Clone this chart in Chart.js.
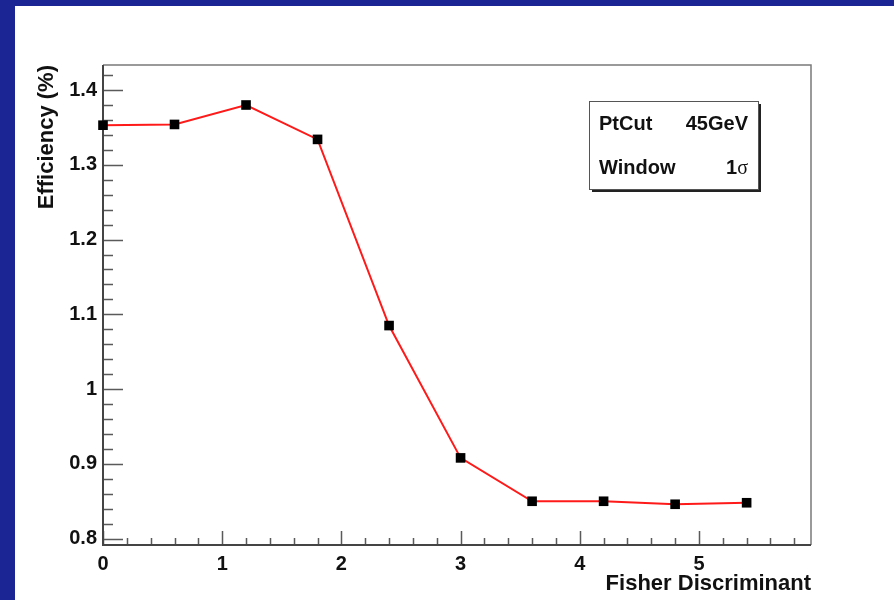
<!DOCTYPE html>
<html>
<head>
<meta charset="utf-8">
<script src="https://cdn.jsdelivr.net/npm/chart.js@4.4.1/dist/chart.umd.min.js"></script>
<style>
  html, body { margin: 0; padding: 0; background: #1b2594; width: 894px; height: 600px; overflow: hidden; }
  #frame { position: absolute; left: 15px; top: 6px; width: 879px; height: 594px; background: #fff; }
  canvas { display: block; }
</style>
</head>
<body>
<div id="frame"><canvas id="effChart" width="879" height="594"></canvas></div>
<script>
// fisher cut scan, efficiency in %
const fisherCut  = [0, 0.6, 1.2, 1.8, 2.4, 3.0, 3.6, 4.2, 4.8, 5.4];
const efficiency = [1.353, 1.354, 1.380, 1.334, 1.085, 0.908, 0.850, 0.850, 0.846, 0.848];

const xTickValues = [0, 1, 2, 3, 4, 5];
const xTickLabels = ["0", "1", "2", "3", "4", "5"];
const yTickValues = [0.8, 0.9, 1.0, 1.1, 1.2, 1.3, 1.4];
const yTickLabels = ["0.8", "0.9", "1", "1.1", "1.2", "1.3", "1.4"];

const legendRows = [["PtCut", "45GeV"], ["Window", "1\u03c3"]];

const FONT = "'Liberation Sans', Arial, Helvetica, sans-serif";

// ROOT style frame: inside ticks with minor divisions, plus the text box
const rootFrame = {
  id: "rootFrame",
  beforeDatasetsDraw(chart) {
    const ctx = chart.ctx;
    const a = chart.chartArea;
    const xs = chart.scales.x, ys = chart.scales.y;
    ctx.save();

    // top + right frame
    ctx.strokeStyle = "#7a7a7a";
    ctx.lineWidth = 1.5;
    ctx.beginPath();
    ctx.moveTo(a.left, a.top); ctx.lineTo(a.right, a.top); ctx.lineTo(a.right, a.bottom);
    ctx.stroke();

    // ticks
    ctx.strokeStyle = "#5a5a5a";
    ctx.lineWidth = 1.5;
    ctx.beginPath();
    for (let i = 0; i <= 31; i++) {
      const v = 0.8 + i * 0.02;
      if (v > ys.max) break;
      const py = Math.round(ys.getPixelForValue(v)) + 0.5;
      const len = (i % 5 === 0) ? 20 : 10;
      ctx.moveTo(a.left, py); ctx.lineTo(a.left + len, py);
    }
    for (let i = 0; i <= 30; i++) {
      const v = i * 0.2;
      if (v > xs.max) break;
      const px = Math.round(xs.getPixelForValue(v)) + 0.5;
      const len = (i % 5 === 0) ? 14 : 7;
      ctx.moveTo(px, a.bottom); ctx.lineTo(px, a.bottom - len);
    }
    ctx.stroke();

    // left + bottom axis
    ctx.strokeStyle = "#444";
    ctx.lineWidth = 2;
    ctx.beginPath();
    ctx.moveTo(a.left, a.top); ctx.lineTo(a.left, a.bottom); ctx.lineTo(a.right, a.bottom);
    ctx.stroke();
    ctx.restore();
  },
  afterDraw(chart) {
    const ctx = chart.ctx;
    const bx = 574, by = 95, bw = 169, bh = 88;
    ctx.save();
    ctx.fillStyle = "#222";
    ctx.fillRect(bx + 3, by + 3, bw, bh);
    ctx.fillStyle = "#fff";
    ctx.fillRect(bx, by, bw, bh);
    ctx.strokeStyle = "#555";
    ctx.lineWidth = 1;
    ctx.strokeRect(bx + 0.5, by + 0.5, bw, bh);

    ctx.fillStyle = "#111";
    ctx.textBaseline = "alphabetic";
    ctx.font = "bold 20px " + FONT;
    legendRows.forEach((row, i) => {
      const y = by + 29 + i * 44;
      ctx.textAlign = "left";
      ctx.fillText(row[0], bx + 10, y);
      ctx.textAlign = "right";
      if (row[1].indexOf("\u03c3") >= 0) {
        ctx.font = "20px 'Liberation Serif', 'DejaVu Serif', serif";
        ctx.fillText("\u03c3", bx + 159, y);
        const w = ctx.measureText("\u03c3").width;
        ctx.font = "bold 20px " + FONT;
        ctx.fillText(row[1].replace("\u03c3", ""), bx + 159 - w, y);
      } else {
        ctx.fillText(row[1], bx + 159, y);
      }
    });
    ctx.restore();
  }
};

const ctx = document.getElementById("effChart").getContext("2d");
new Chart(ctx, {
  type: "line",
  data: {
    datasets: [{
      data:                 fisherCut.map((x, i) => ({ x: x, y: efficiency[i] })),
      borderColor:          "#ff1a1a",
      borderWidth:          2,
      pointStyle:           "rect",
      pointRadius:          6.8,
      pointBackgroundColor: "#000",
      pointBorderColor:     "#000",
      pointBorderWidth:     0,
      tension:              0,
      fill:                 false,
      clip:                 false,
    }]
  },
  options: {
    responsive: false,
    animation:  false,
    layout: { padding: { left: 0, right: 83, top: 59, bottom: 0 } },
    plugins: { legend: { display: false }, tooltip: { enabled: false } },
    scales: {
      x: {
        type: "linear",
        min: 0, max: 5.94,
        afterFit: s => { s.height = 55; },
        afterBuildTicks: s => { s.ticks = xTickValues.map(v => ({ value: v })); },
        border: { display: false },
        grid: { display: false, drawTicks: false },
        ticks: {
          padding: 7,
          color: "#111",
          font: { family: FONT, size: 20, weight: "bold" },
          callback: (v) => xTickLabels[xTickValues.indexOf(v)],
        },
        title: {
          display: true, text: "Fisher Discriminant", align: "end",
          color: "#111",
          padding: { top: 0, bottom: 3 },
          font: { family: FONT, size: 22, weight: "bold" },
        },
      },
      y: {
        min: 0.7915, max: 1.4335,
        afterFit: s => { s.width = 88; },
        afterBuildTicks: s => { s.ticks = yTickValues.map(v => ({ value: v })); },
        border: { display: false },
        grid: { display: false, drawTicks: false },
        ticks: {
          padding: 6,
          color: "#111",
          font: { family: FONT, size: 20, weight: "bold" },
          callback: (v) => yTickLabels[yTickValues.findIndex(t => Math.abs(t - v) < 1e-9)],
        },
        title: {
          display: true, text: "Efficiency (%)", align: "end",
          color: "#111",
          padding: { top: 19, bottom: 0 },
          font: { family: FONT, size: 22, weight: "bold" },
        },
      },
    }
  },
  plugins: [rootFrame]
});
</script>
</body>
</html>
